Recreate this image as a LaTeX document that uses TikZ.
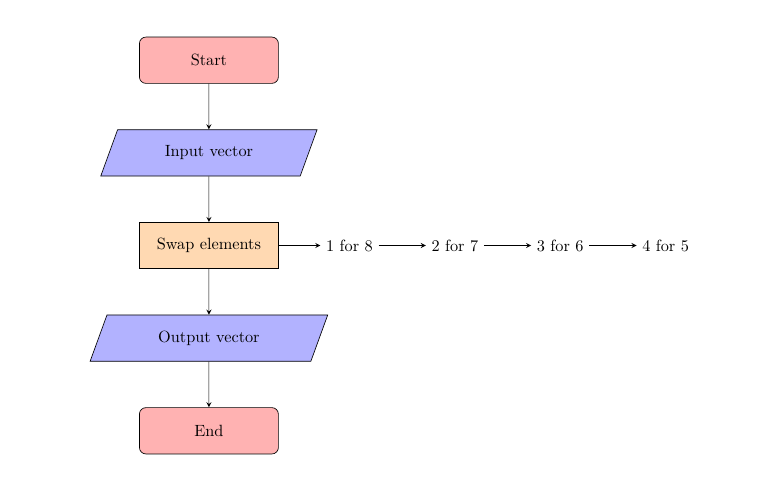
\documentclass[tikz,border=0pt]{standalone}
\usetikzlibrary{shapes.geometric,arrows,positioning}

\tikzstyle{startstop}=[rectangle, rounded corners, minimum width=3cm, minimum height=1cm, text centered, draw=black, fill=red!30]
\tikzstyle{io}=[trapezium, trapezium left angle=70, trapezium right angle=110, minimum width=3cm, minimum height=1cm, text centered, draw=black, fill=blue!30]
\tikzstyle{process}=[rectangle, minimum width=3cm, minimum height=1cm, text centered, draw=black, fill=orange!30]
\tikzstyle{arrow}=[->,>=stealth]
\tikzstyle{swap}=[]

\begin{document}
\begin{tikzpicture}[node distance=2cm]
\useasboundingbox (-4.51,-9.29) rectangle (11.94,1.30);

\node (start) [startstop] {Start};
\node (in1) [io, below of=start] {Input vector};
\node (pro1) [process, below of=in1] {Swap elements};
\node (out1) [io, below of=pro1] {Output vector};
\node (stop) [startstop, below of=out1] {End};

\node (s1) [swap, right=0.9cm of pro1] {1 for 8};
\node (s2) [swap, right=1.02cm of s1] {2 for 7};
\node (s3) [swap, right=1.02cm of s2] {3 for 6};
\node (s4) [swap, right=1.02cm of s3] {4 for 5};

\draw [arrow] (start) -- (in1);
\draw [arrow] (in1) -- (pro1);
\draw [arrow] (pro1) -- (out1);
\draw [arrow] (out1) -- (stop);
\draw [arrow] (pro1) -- (s1);
\draw [arrow] (s1) -- (s2);
\draw [arrow] (s2) -- (s3);
\draw [arrow] (s3) -- (s4);
\end{tikzpicture}
\end{document}
